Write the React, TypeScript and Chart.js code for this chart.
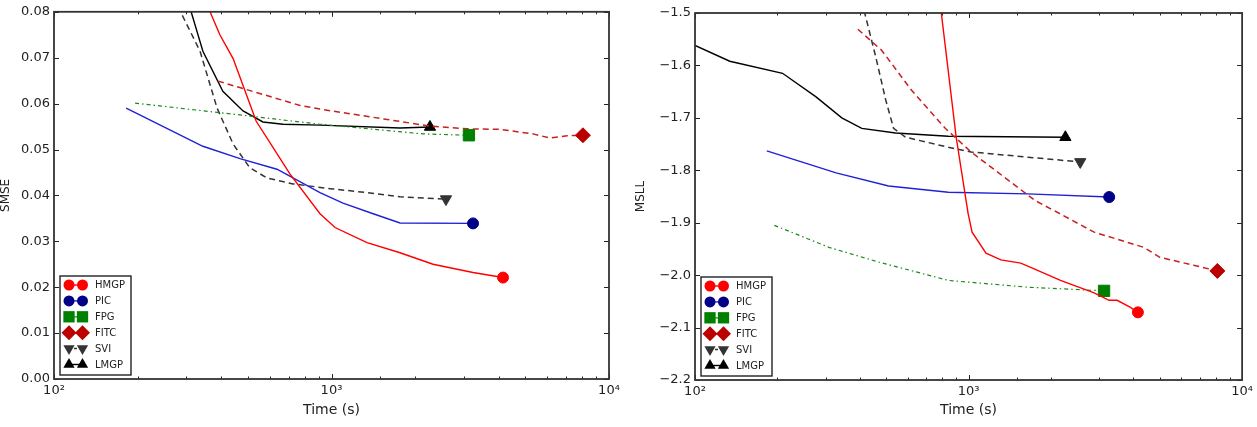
import React, { useEffect, useRef } from 'react';
import { Chart, registerables } from 'chart.js';

Chart.register(...registerables);

const FONT = 'DejaVu Sans, sans-serif';
const TEXT = '#222222';

// ---------- shared ----------
const seriesNames = ['HMGP', 'PIC', 'FPG', 'FITC', 'SVI', 'LMGP'];
const timeMajorTicks = [100, 1000, 10000];
const timeMajorLabels = ['10²', '10³', '10⁴'];

// ---------- SMSE panel (left) ----------
const smseTicks = [0, 0.01, 0.02, 0.03, 0.04, 0.05, 0.06, 0.07, 0.08];
const hmgpSmseTime = [350, 365, 396, 442, 535, 708, 909, 1030, 1343, 1766, 2322, 3236, 4150];
const hmgpSmse = [0.0825, 0.08, 0.075, 0.0698, 0.0562, 0.0447, 0.036, 0.033, 0.0297, 0.0275, 0.025, 0.0232, 0.0221];
const picSmseTime = [182, 344, 468, 636, 909, 1100, 1413, 1766, 3236];
const picSmse = [0.059, 0.0507, 0.048, 0.0457, 0.0406, 0.0383, 0.036, 0.034, 0.0339];
const fpgSmseTime = [196, 442, 909, 2137, 3128];
const fpgSmse = [0.0601, 0.0577, 0.0555, 0.0534, 0.0531];
const fitcSmseTime = [390, 770, 909, 2264, 3078, 4046, 5321, 6125, 7060, 8054];
const fitcSmse = [0.0649, 0.0596, 0.0588, 0.0551, 0.0545, 0.0544, 0.0534, 0.0525, 0.053, 0.0531];
const sviSmseTime = [280, 289, 336, 387, 442, 508, 586, 727, 1012, 1343, 1766, 2585];
const sviSmse = [0.0812, 0.0794, 0.0714, 0.059, 0.0512, 0.046, 0.0438, 0.0425, 0.0414, 0.0406, 0.0397, 0.0392];
const lmgpSmseTime = [304, 312, 344, 406, 480, 566, 669, 909, 1766, 2264];
const lmgpSmse = [0.0822, 0.08, 0.0714, 0.0627, 0.0584, 0.056, 0.0555, 0.0553, 0.0547, 0.0549];

// ---------- MSLL panel (right) ----------
const msllTicks = [-2.2, -2.1, -2.0, -1.9, -1.8, -1.7, -1.6, -1.5];
const hmgpMsllTime = [769, 795, 901, 996, 1030, 1158, 1313, 1552, 1687, 2168, 2878, 3266, 3491, 3892, 4159];
const hmgpMsll = [-1.43, -1.5, -1.737, -1.882, -1.918, -1.958, -1.971, -1.977, -1.985, -2.01, -2.034, -2.048, -2.048, -2.061, -2.071];
const picMsllTime = [183, 328, 510, 843, 1644, 3266];
const picMsll = [-1.763, -1.805, -1.83, -1.842, -1.845, -1.851];
const fpgMsllTime = [195, 309, 469, 843, 1644, 3128];
const fpgMsll = [-1.905, -1.947, -1.975, -2.01, -2.023, -2.03];
const fitcMsllTime = [394, 481, 618, 822, 1021, 1743, 2878, 4372, 5000, 6643, 8118];
const fitcMsll = [-1.531, -1.571, -1.647, -1.72, -1.765, -1.857, -1.918, -1.947, -1.966, -1.981, -1.992];
const sviMsllTime = [407, 421, 458, 498, 532, 589, 843, 1021, 1644, 2560];
const sviMsll = [-1.477, -1.508, -1.584, -1.666, -1.72, -1.737, -1.756, -1.765, -1.775, -1.784];
const lmgpMsllTime = [100, 134, 209, 277, 344, 407, 541, 843, 2259];
const lmgpMsll = [-1.562, -1.592, -1.615, -1.66, -1.7, -1.72, -1.729, -1.735, -1.737];

type Style = {
  line: string;
  marker: string;
  width: number;
  dash: number[];
  point: string;
  rot: number;
  r: number;
  legendR: number;
};

const styles: Style[] = [
  { line: '#ff0000', marker: '#ff0000', width: 1.4, dash: [], point: 'circle', rot: 0, r: 5.5, legendR: 5.5 },
  { line: '#2020d8', marker: '#000088', width: 1.4, dash: [], point: 'circle', rot: 0, r: 5.5, legendR: 5.5 },
  { line: '#1a8a1a', marker: '#008000', width: 1.2, dash: [4, 3, 1.5, 3], point: 'rect', rot: 0, r: 8, legendR: 8 },
  { line: '#c82020', marker: '#bb0000', width: 1.5, dash: [6, 4], point: 'rectRot', rot: 0, r: 7.5, legendR: 7.5 },
  { line: '#333333', marker: '#333333', width: 1.5, dash: [6, 4], point: 'triangle', rot: 180, r: 6.5, legendR: 6.5 },
  { line: '#000000', marker: '#000000', width: 1.4, dash: [], point: 'triangle', rot: 0, r: 6.5, legendR: 6.5 },
];

function makeDatasets(times: number[][], values: number[][]) {
  return seriesNames.map((name, i) => {
    const s = styles[i];
    const n = times[i].length;
    return {
      label: name,
      data: times[i].map((t, j) => ({ x: t, y: values[i][j] })),
      borderColor: s.line,
      backgroundColor: s.marker,
      borderWidth: s.width,
      borderDash: s.dash,
      pointStyle: s.point,
      pointRotation: s.rot,
      pointRadius: (c: any) => (c.dataIndex === n - 1 ? s.r : 0),
      pointHoverRadius: 0,
      pointBackgroundColor: s.marker,
      pointBorderColor: s.marker,
      pointBorderWidth: 1,
      tension: 0,
      fill: false,
    };
  });
}

function drawMarker(ctx: CanvasRenderingContext2D, s: Style, x: number, y: number) {
  const r = s.legendR;
  ctx.beginPath();
  if (s.point === 'circle') {
    ctx.arc(x, y, r, 0, Math.PI * 2);
  } else if (s.point === 'rect') {
    const h = r * Math.SQRT1_2;
    ctx.rect(x - h, y - h, 2 * h, 2 * h);
  } else if (s.point === 'rectRot') {
    ctx.moveTo(x, y - r);
    ctx.lineTo(x + r, y);
    ctx.lineTo(x, y + r);
    ctx.lineTo(x - r, y);
    ctx.closePath();
  } else {
    let a = (s.rot * Math.PI) / 180;
    for (let k = 0; k < 3; k++) {
      const px = x + Math.sin(a) * r;
      const py = y - Math.cos(a) * r;
      if (k === 0) ctx.moveTo(px, py);
      else ctx.lineTo(px, py);
      a += (2 * Math.PI) / 3;
    }
    ctx.closePath();
  }
  ctx.fillStyle = s.marker;
  ctx.fill();
}

function isMajor(v: number) {
  return timeMajorTicks.some((m) => Math.abs(m - v) < 1e-6 * m);
}

const frameAndLegend = {
  id: 'frameAndLegend',
  afterDatasetsDraw(chart: any) {
    const { ctx, chartArea: a, scales } = chart;
    ctx.save();
    ctx.strokeStyle = '#222';
    ctx.lineWidth = 1;
    ctx.setLineDash([]);
    const seg = (x1: number, y1: number, x2: number, y2: number) => {
      ctx.beginPath();
      ctx.moveTo(x1, y1);
      ctx.lineTo(x2, y2);
      ctx.stroke();
    };
    const xs = scales.x;
    xs.ticks.forEach((t: any) => {
      const px = Math.round(xs.getPixelForValue(t.value)) + 0.5;
      const len = isMajor(t.value) ? 5 : 2.5;
      seg(px, a.bottom, px, a.bottom - len);
      seg(px, a.top, px, a.top + len);
    });
    const ys = scales.y;
    ys.ticks.forEach((t: any) => {
      const py = Math.round(ys.getPixelForValue(t.value)) + 0.5;
      seg(a.left, py, a.left + 5, py);
      seg(a.right, py, a.right - 5, py);
    });
    ctx.lineWidth = 1.8;
    ctx.strokeStyle = '#333';
    ctx.strokeRect(a.left, a.top, a.right - a.left, a.bottom - a.top);

    // legend box (lower left, inside axes)
    const bw = 71;
    const bh = 99;
    const bx = a.left + 6;
    const by = a.bottom - 4 - bh;
    ctx.fillStyle = '#ffffff';
    ctx.fillRect(bx, by, bw, bh);
    ctx.lineWidth = 1.4;
    ctx.strokeStyle = '#222';
    ctx.strokeRect(bx, by, bw, bh);
    ctx.font = `10px ${FONT}`;
    ctx.textBaseline = 'middle';
    ctx.textAlign = 'left';
    seriesNames.forEach((name, i) => {
      const s = styles[i];
      const y = by + 9 + i * 15.9;
      const x1 = bx + 9;
      const x2 = bx + 22.5;
      ctx.strokeStyle = s.line;
      ctx.lineWidth = s.width;
      ctx.setLineDash(s.dash.length ? [3, 2] : []);
      seg(x1, y, x2, y);
      ctx.setLineDash([]);
      drawMarker(ctx, s, x1, y);
      drawMarker(ctx, s, x2, y);
      ctx.fillStyle = TEXT;
      ctx.fillText(name, bx + 35, y + 0.5);
    });
    ctx.restore();
  },
};

type PanelProps = {
  width: number;
  padRight: number;
  padTop: number;
  yWidth: number;
  xHeight: number;
  yTitle: string;
  yTitlePad: number;
  yMin: number;
  yMax: number;
  yTicks: number[];
  yFormat: (v: number) => string;
  times: number[][];
  values: number[][];
};

function Panel(p: PanelProps) {
  const ref = useRef<HTMLCanvasElement | null>(null);
  useEffect(() => {
    if (!ref.current) return;
    const chart = new Chart(ref.current, {
      type: 'line',
      data: { datasets: makeDatasets(p.times, p.values) as any },
      plugins: [frameAndLegend],
      options: {
        responsive: false,
        animation: false,
        devicePixelRatio: 1,
        events: [],
        layout: { padding: { left: 0, right: p.padRight, top: p.padTop, bottom: 0 } },
        plugins: { legend: { display: false }, tooltip: { enabled: false } },
        scales: {
          x: {
            type: 'logarithmic',
            min: 100,
            max: 10000,
            grid: { display: false, drawTicks: false },
            border: { display: false },
            ticks: {
              autoSkip: false,
              maxRotation: 0,
              minRotation: 0,
              padding: 4,
              color: TEXT,
              font: { size: 13, family: FONT },
              callback: (v: any) => {
                const idx = timeMajorTicks.findIndex((m) => Math.abs(m - Number(v)) < 1e-6 * m);
                return idx >= 0 ? timeMajorLabels[idx] : '';
              },
            },
            title: {
              display: true,
              text: 'Time (s)',
              color: TEXT,
              font: { size: 14, family: FONT, lineHeight: 1 },
              padding: { top: 0, bottom: 10 },
            },
            afterFit: (s: any) => {
              s.height = p.xHeight;
            },
          },
          y: {
            type: 'linear',
            min: p.yMin,
            max: p.yMax,
            grid: { display: false, drawTicks: false },
            border: { display: false },
            afterBuildTicks: (s: any) => {
              s.ticks = p.yTicks.map((v) => ({ value: v }));
            },
            ticks: {
              padding: 4,
              color: TEXT,
              font: { size: 13, family: FONT },
              callback: (v: any) => p.yFormat(Number(v)),
            },
            title: {
              display: true,
              text: p.yTitle,
              color: TEXT,
              font: { size: 12, family: FONT, lineHeight: 1 },
              padding: { top: p.yTitlePad, bottom: 0 },
            },
            afterFit: (s: any) => {
              s.width = p.yWidth;
            },
          },
        },
      } as any,
    });
    return () => chart.destroy();
  }, []);
  return <canvas ref={ref} width={p.width} height={427} style={{ width: p.width, height: 427, display: 'block' }} />;
}

export default function App() {
  return (
    <div style={{ position: 'absolute', left: 0, top: 0, width: 1257, height: 427, background: '#fff', display: 'flex' }}>
      <Panel
        width={628}
        padRight={19}
        padTop={10}
        yWidth={54}
        xHeight={48}
        yTitle="SMSE"
        yTitlePad={0}
        yMin={0}
        yMax={0.08}
        yTicks={smseTicks}
        yFormat={(v) => v.toFixed(2)}
        times={[hmgpSmseTime, picSmseTime, fpgSmseTime, fitcSmseTime, sviSmseTime, lmgpSmseTime]}
        values={[hmgpSmse, picSmse, fpgSmse, fitcSmse, sviSmse, lmgpSmse]}
      />
      <Panel
        width={629}
        padRight={11}
        padTop={13}
        yWidth={67}
        xHeight={47}
        yTitle="MSLL"
        yTitlePad={7}
        yMin={-2.2}
        yMax={-1.5}
        yTicks={msllTicks}
        yFormat={(v) => v.toFixed(1).replace('-', '\u2212')}
        times={[hmgpMsllTime, picMsllTime, fpgMsllTime, fitcMsllTime, sviMsllTime, lmgpMsllTime]}
        values={[hmgpMsll, picMsll, fpgMsll, fitcMsll, sviMsll, lmgpMsll]}
      />
    </div>
  );
}
